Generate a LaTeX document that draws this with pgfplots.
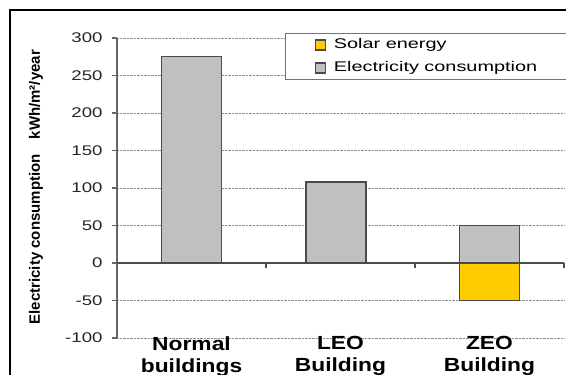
\documentclass[border=0pt]{standalone}
\usepackage{pgfplots}
\pgfplotsset{compat=1.18}
\usepackage{fontspec}
\setmainfont{Liberation Sans}[FakeStretch=1.33]
\newfontfamily\plainfont{Liberation Sans}
\newfontfamily\catfont{Liberation Sans}[FakeStretch=1.2]
\newfontfamily\legfont{Liberation Sans}[FakeStretch=1.42]
\definecolor{elec}{RGB}{192,192,192}
\definecolor{solar}{RGB}{255,204,0}
\definecolor{edge}{RGB}{75,75,75}
\begin{document}
\begin{tikzpicture}[x=1pt,y=1pt]
\clip (0,0) rectangle (566,375);
\fill[white] (0,0) rectangle (566,375);
\draw[line width=2pt] (9.5,-10) -- (9.5,364.5) -- (590,364.5);
\begin{axis}[
  at={(117pt,37pt)}, anchor=south west,
  scale only axis, width=447pt, height=300pt,
  xmin=-0.5, xmax=2.5, ymin=-100, ymax=300,
  ytick={-100,-50,...,300},
  xtick={0,1,2},
  xticklabels={{Normal\\buildings},{LEO\\Building},{ZEO\\Building}},
  xticklabel style={align=center, font=\catfont\fontsize{19}{22}\selectfont\bfseries, anchor=north, yshift=10pt},
  yticklabel style={font=\fontsize{14}{16}\selectfont, text=black!85, xshift=-6pt},
  /pgf/number format/assume math mode=true,
  axis y line*=left, axis x line*=bottom,
  x axis line style={draw=none},
  y axis line style={draw=black!60, line width=1.2pt},
  xtick style={draw=none},
  ytick style={draw=black!60, line width=1.2pt},
  tick align=outside, major tick length=5pt,
  ymajorgrids, grid style={densely dotted, black!45, line width=0.7pt},
  every axis y label/.style={at={(rel axis cs:-0.1812,0.503)}, rotate=90, anchor=center},
  ylabel={Electricity consumption\quad kWh/m²/year},
  ylabel style={font=\plainfont\fontsize{15}{17}\selectfont\bfseries},
  ybar, bar width=60pt, bar shift=0pt,
  clip=false,
  legend style={at={(rel axis cs:0.3758,1.0167)}, anchor=north west,
    minimum width=281pt, minimum height=46pt,
    draw=black!55, line width=1pt, fill=white,
    font=\legfont\fontsize{14}{16}\selectfont, row sep=10pt,
    nodes={inner sep=0pt, minimum width=0pt, minimum height=0pt, text height=10pt, text depth=3pt}},
  legend cell align=left,
  legend image code/.code={\draw[#1] (0pt,-5pt) rectangle (10pt,5pt); \path (18pt,0pt);},
]
\draw[draw=edge, line width=1.2pt] (axis cs:-0.5,0) -- (axis cs:2.5,0);
\draw[draw=edge, line width=1.2pt] (axis cs:0.5,0) -- ++(0pt,-5pt);
\draw[draw=edge, line width=1.2pt] (axis cs:1.5,0) -- ++(0pt,-5pt);
\draw[draw=edge, line width=1.2pt] (axis cs:2.5,0) -- ++(0pt,-5pt);
\addplot[fill=solar, draw=edge, line width=1.2pt] coordinates {(0.97,0) (2,-50)};
\addplot[fill=elec, draw=edge, line width=1.2pt] coordinates {(0,275) (0.97,108) (2,50)};
\legend{Solar energy, Electricity consumption}
\end{axis}
\end{tikzpicture}
\end{document}
